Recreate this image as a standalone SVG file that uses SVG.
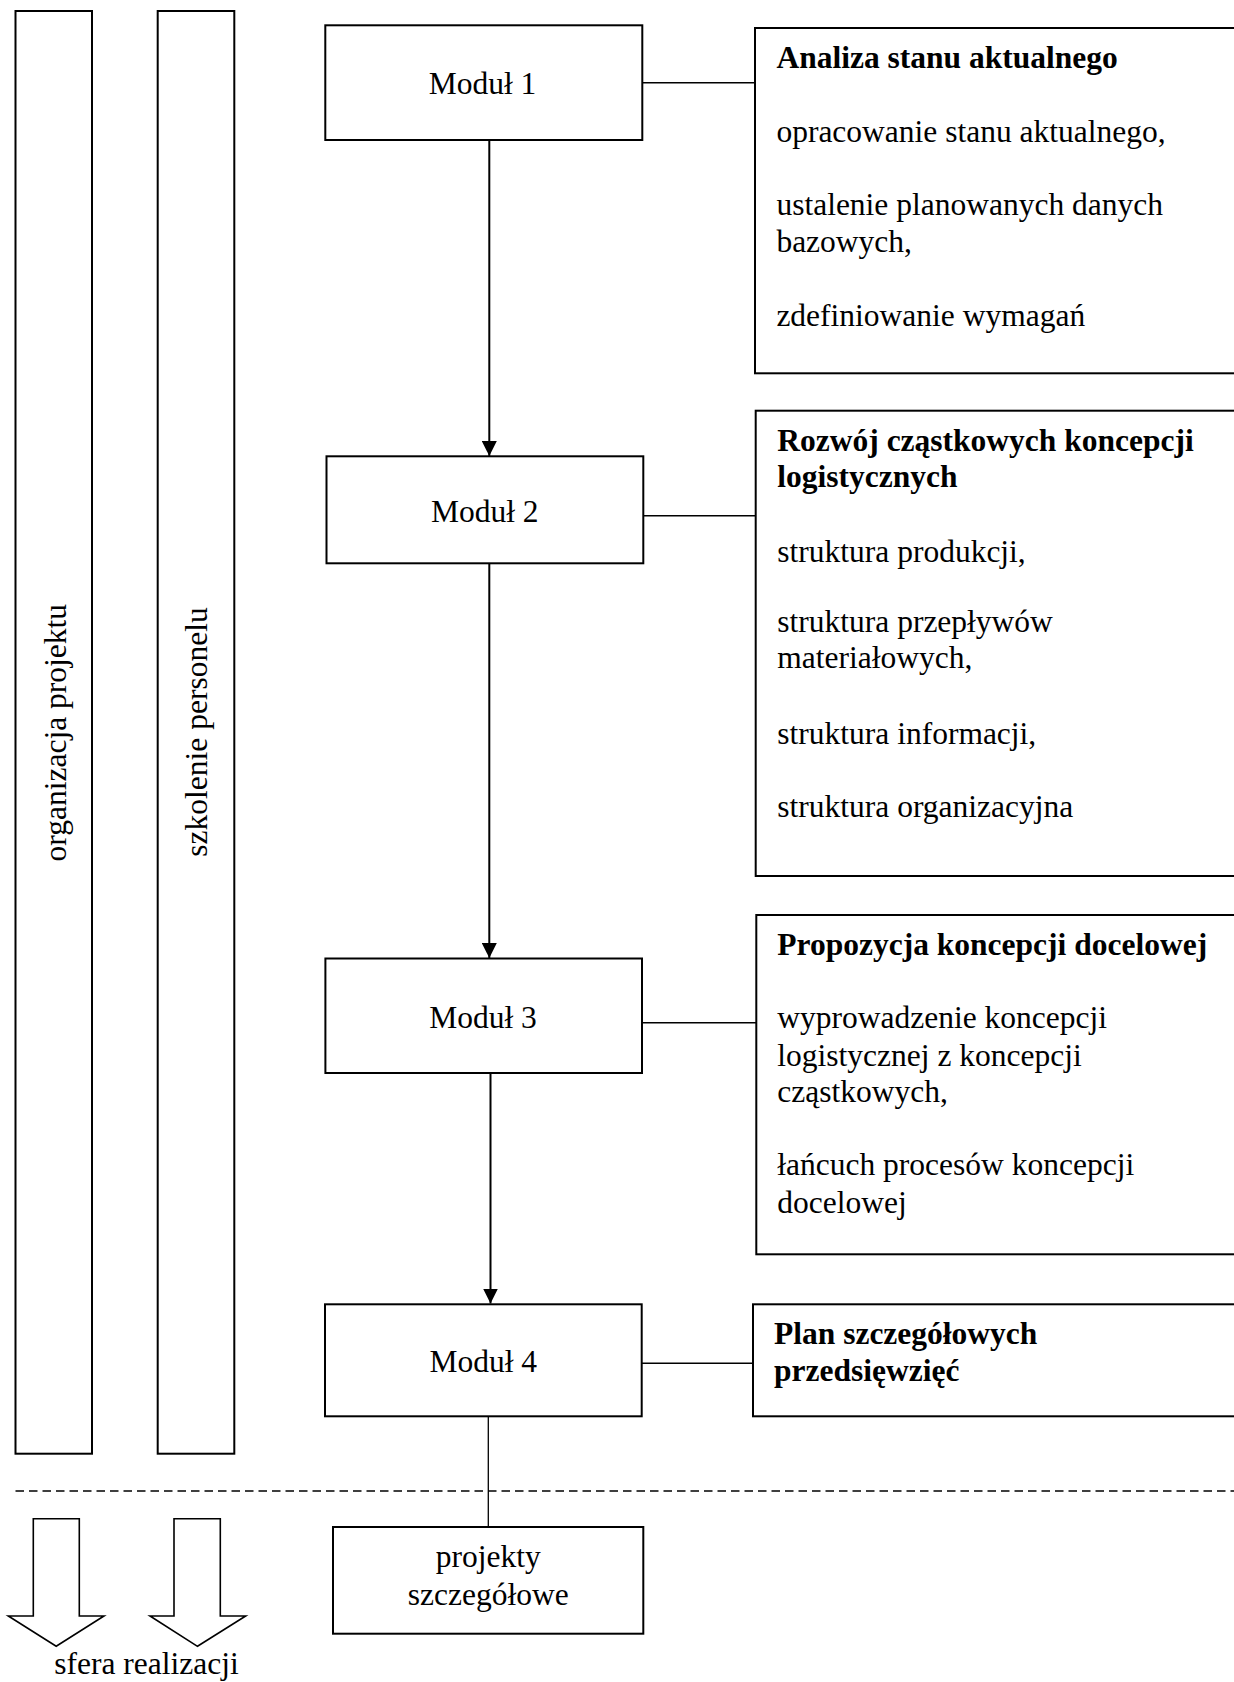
<svg xmlns="http://www.w3.org/2000/svg" width="1234" height="1682" viewBox="0 0 1234 1682">
<style>
  .box { fill: #fff; stroke: #000; stroke-width: 2; }
  .bar { fill: #fff; stroke: #000; stroke-width: 2; }
  .t { font-family: "Liberation Serif", "Times New Roman", serif; font-size: 31.5px; fill: #000; }
  .c { text-anchor: middle; }
  .b { font-weight: bold; }
  .conn { stroke: #000; stroke-width: 2; fill: none; }
  .hconn { stroke: #000; stroke-width: 1.6; fill: none; }
  .thin { stroke: #000; stroke-width: 1.3; fill: none; }
  .dash { stroke: #000; stroke-width: 1.6; stroke-dasharray: 8.5 5; fill: none; }
  .blk { fill: #fff; stroke: #000; stroke-width: 1.6; }
</style>
<defs>
  <marker id="ah" markerWidth="15" markerHeight="15" refX="15" refY="7.5" orient="auto" markerUnits="userSpaceOnUse">
    <path d="M0,0 L15,7.5 L0,15 Z" fill="#000"/>
  </marker>
</defs>
<rect width="1234" height="1682" fill="#fff"/>

<g id="bar-organizacja">
  <rect class="bar" x="15.5" y="11" width="76.5" height="1442.7"/>
  <text class="t c" transform="translate(66,732.7) rotate(-90)">organizacja projektu</text>
</g>
<g id="bar-szkolenie">
  <rect class="bar" x="157.7" y="11" width="76.6" height="1442.7"/>
  <text class="t c" transform="translate(207,732) rotate(-90)">szkolenie personelu</text>
</g>

<g id="connectors">
  <line class="conn" x1="489.3" y1="140" x2="489.3" y2="456" marker-end="url(#ah)"/>
  <line class="conn" x1="489.3" y1="563.3" x2="489.3" y2="958" marker-end="url(#ah)"/>
  <line class="conn" x1="490.5" y1="1073" x2="490.5" y2="1303.5" marker-end="url(#ah)"/>
  <line class="thin" x1="488.3" y1="1416.3" x2="488.3" y2="1527"/>
  <line class="hconn" x1="642.3" y1="82.7" x2="755" y2="82.7"/>
  <line class="hconn" x1="643.3" y1="515.7" x2="755.7" y2="515.7"/>
  <line class="hconn" x1="642" y1="1022.7" x2="756.3" y2="1022.7"/>
  <line class="hconn" x1="641.7" y1="1363.3" x2="753" y2="1363.3"/>
</g>

<g id="separator">
  <line class="dash" x1="15.5" y1="1491" x2="1234" y2="1491"/>
</g>

<g id="modul1">
  <rect class="box" x="325.3" y="25.3" width="317" height="114.7"/>
  <text class="t c" x="482.5" y="94.3">Moduł 1</text>
</g>
<g id="modul2">
  <rect class="box" x="326.5" y="456.3" width="316.8" height="107"/>
  <text class="t c" x="484.8" y="522.3">Moduł 2</text>
</g>
<g id="modul3">
  <rect class="box" x="325.4" y="958.5" width="316.6" height="114.5"/>
  <text class="t c" x="483" y="1028">Moduł 3</text>
</g>
<g id="modul4">
  <rect class="box" x="325" y="1304.3" width="316.7" height="112"/>
  <text class="t c" x="483.3" y="1372">Moduł 4</text>
</g>
<g id="projekty">
  <rect class="box" x="333" y="1527" width="310.3" height="106.7"/>
  <text class="t c" x="488.3" y="1567">projekty</text>
  <text class="t c" x="488.3" y="1604.7">szczegółowe</text>
</g>

<g id="opis1">
  <rect class="box" x="755" y="28" width="490" height="345.3"/>
  <text class="t b" x="776.4" y="68.3">Analiza stanu aktualnego</text>
  <text class="t" x="776.4" y="141.7">opracowanie stanu aktualnego,</text>
  <text class="t" x="776.4" y="215">ustalenie planowanych danych</text>
  <text class="t" x="776.4" y="251.7">bazowych,</text>
  <text class="t" x="776.4" y="326">zdefiniowanie wymagań</text>
</g>
<g id="opis2">
  <rect class="box" x="755.7" y="410.7" width="490" height="465.3"/>
  <text class="t b" x="777.3" y="450.7">Rozwój cząstkowych koncepcji</text>
  <text class="t b" x="777.3" y="487.3">logistycznych</text>
  <text class="t" x="777.3" y="561.7">struktura produkcji,</text>
  <text class="t" x="777.3" y="631.7">struktura przepływów</text>
  <text class="t" x="777.3" y="668.3">materiałowych,</text>
  <text class="t" x="777.3" y="744.3">struktura informacji,</text>
  <text class="t" x="777.3" y="816.7">struktura organizacyjna</text>
</g>
<g id="opis3">
  <rect class="box" x="756.3" y="915" width="490" height="339.3"/>
  <text class="t b" x="777.3" y="955">Propozycja koncepcji docelowej</text>
  <text class="t" x="777.3" y="1028.3">wyprowadzenie koncepcji</text>
  <text class="t" x="777.3" y="1065.7">logistycznej z koncepcji</text>
  <text class="t" x="777.3" y="1101.7">cząstkowych,</text>
  <text class="t" x="777.3" y="1175">łańcuch procesów koncepcji</text>
  <text class="t" x="777.3" y="1213.3">docelowej</text>
</g>
<g id="opis4">
  <rect class="box" x="753" y="1304.3" width="490" height="112"/>
  <text class="t b" x="774" y="1344.3">Plan szczegółowych</text>
  <text class="t b" x="774" y="1381">przedsięwzięć</text>
</g>

<g id="sfera-realizacji">
  <polygon class="blk" points="33.3,1518.7 79.3,1518.7 79.3,1616 104,1616 56.2,1646.3 8.3,1616 33.3,1616"/>
  <polygon class="blk" points="174,1518.7 220.3,1518.7 220.3,1616 245.7,1616 197.5,1646.3 150,1616 174,1616"/>
  <text class="t" x="54.3" y="1673.7">sfera realizacji</text>
</g>
</svg>
